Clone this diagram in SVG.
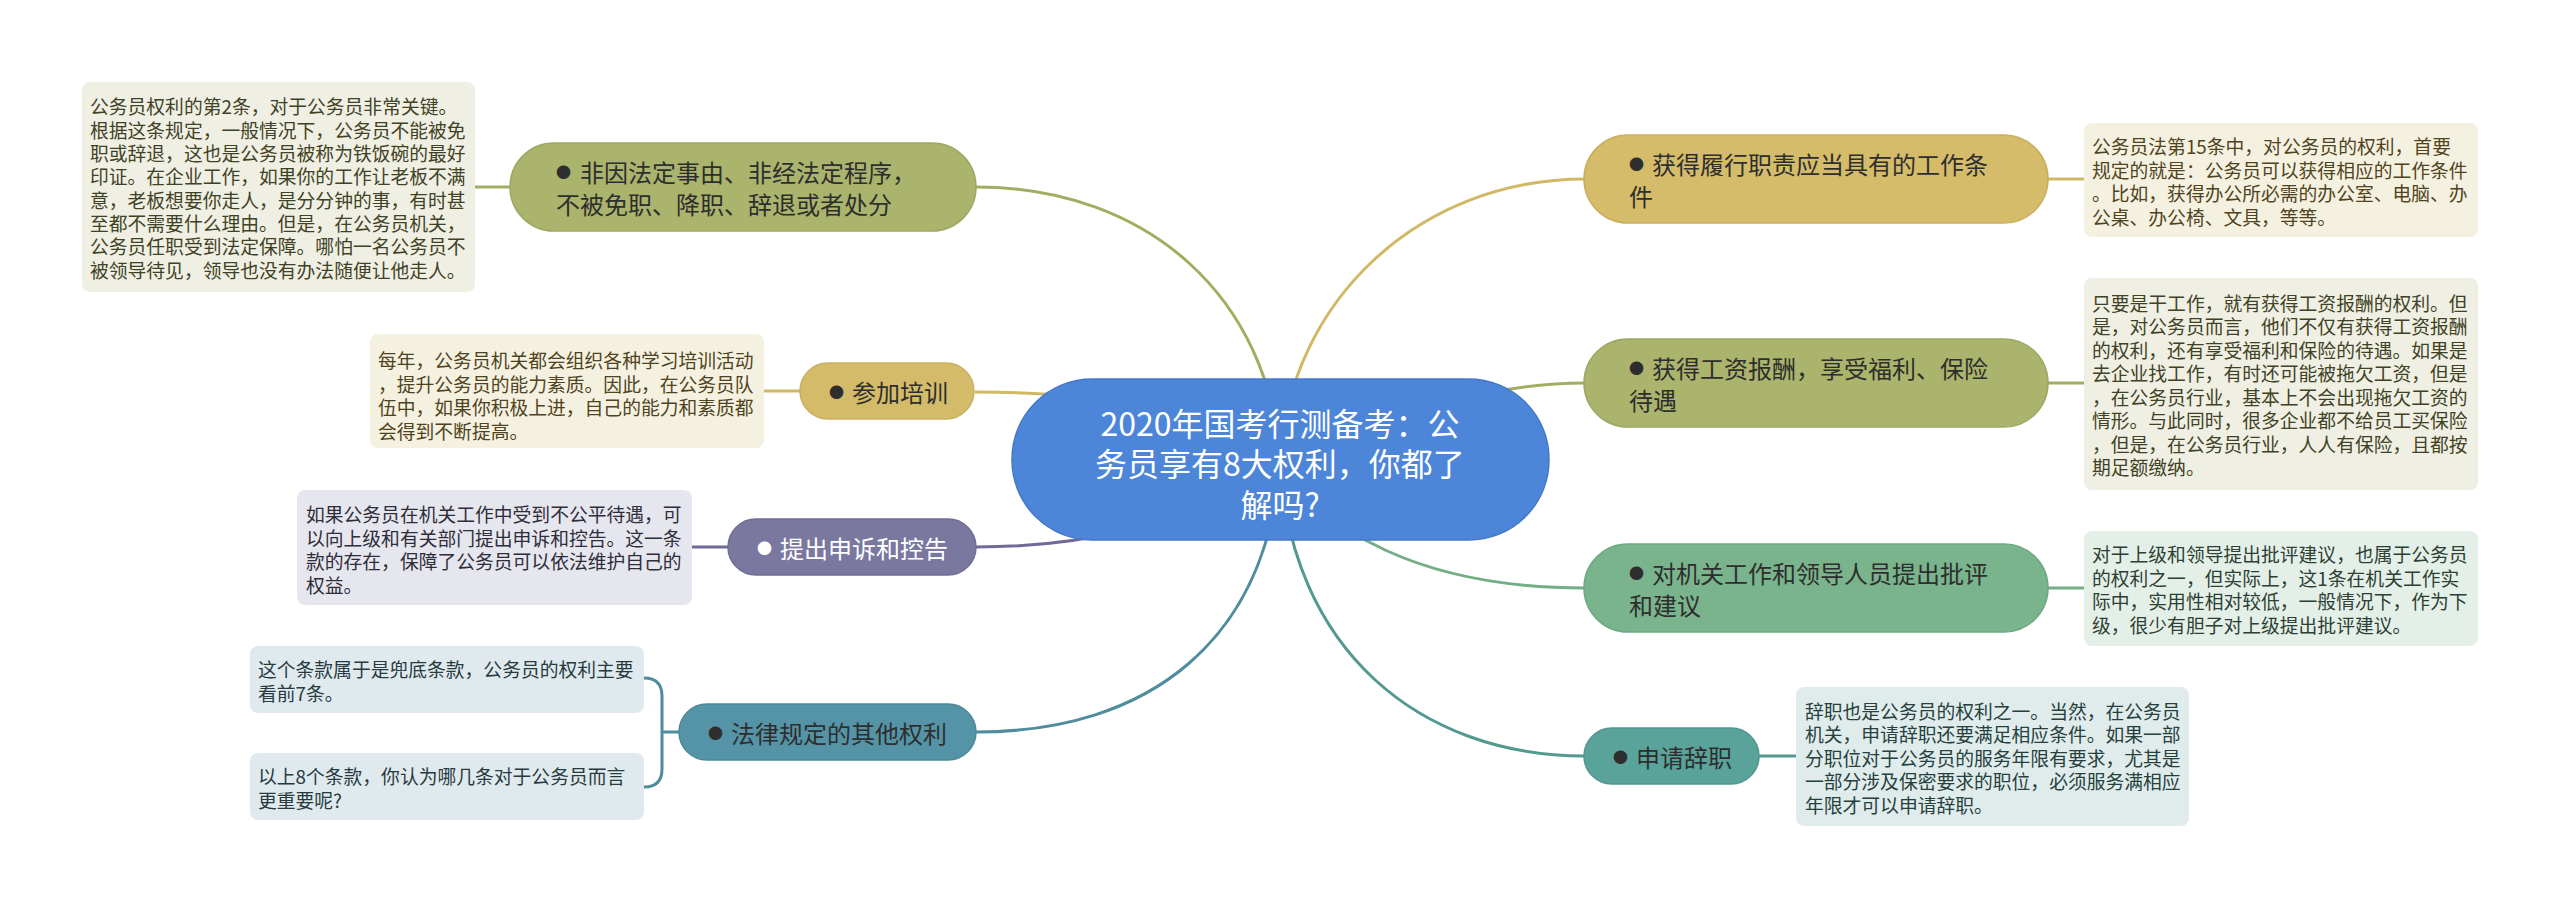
<svg xmlns="http://www.w3.org/2000/svg" width="2560" height="907" viewBox="0 0 2560 907">
<style>
text{font-family:"Noto Sans CJK SC","Noto Sans",sans-serif;dominant-baseline:central}
.note{font-size:18.8px}
.nd{font-size:24px;fill:#2e2e2e}
.b{font-size:15px}
.c{fill:none;stroke-width:3;stroke-linecap:round}
.nr{stroke-width:1.5}
</style>
<rect width="2560" height="907" fill="#ffffff"/>
<g id="connectors">
<path class="c" stroke="#a3ad62" d="M976 187 C1150 187 1270 300 1280 460"/>
<path class="c" stroke="#d1b865" d="M976 392 C1100 392 1200 410 1280 460"/>
<path class="c" stroke="#6f6a98" d="M976 547 C1080 547 1160 530 1280 470"/>
<path class="c" stroke="#4f8d9e" d="M976 732 C1150 732 1268 640 1280 460"/>
<path class="c" stroke="#d1b865" d="M1280 460 C1290 300 1420 179 1585 179"/>
<path class="c" stroke="#a3ad62" d="M1280 460 C1380 420 1480 383 1585 383"/>
<path class="c" stroke="#74ad86" d="M1280 460 C1320 530 1420 588 1585 588"/>
<path class="c" stroke="#53998f" d="M1280 460 C1290 650 1420 756 1585 756"/>
<path class="c" stroke="#a3ad62" d="M475 187 L511 187"/>
<path class="c" stroke="#d1b865" d="M764 391 L801 391"/>
<path class="c" stroke="#6f6a98" d="M692 547 L729 547"/>
<path class="c" stroke="#4f8d9e" d="M644 678 C656 678 662 684 662 696 L662 769 C662 781 656 787 644 787 M662 732 L680 732"/>
<path class="c" stroke="#d1b865" d="M2047 179 L2084 179"/>
<path class="c" stroke="#a3ad62" d="M2047 383 L2084 383"/>
<path class="c" stroke="#74ad86" d="M2047 588 L2084 588"/>
<path class="c" stroke="#53998f" d="M1758 756 L1796 756"/>
</g>

<g id="center">
<rect x="1012" y="379" width="537" height="161" rx="80" fill="#4d86d9" stroke="#4479c8" class="nr"/>
<text x="1280" y="422" font-size="32" fill="#ffffff" text-anchor="middle">2020年国考行测备考：公</text>
<text x="1280" y="462" font-size="32" fill="#ffffff" text-anchor="middle">务员享有8大权利，你都了</text>
<text x="1280" y="503" font-size="32" fill="#ffffff" text-anchor="middle">解吗?</text>
</g>

<g id="n1">
<rect x="510" y="143" width="466" height="88" rx="44" fill="#abb46c" stroke="#9fa862" class="nr"/>
<text class="nd" y="171"><tspan class="b" x="556">●</tspan><tspan x="580">非因法定事由、非经法定程序，</tspan></text>
<text class="nd" x="556" y="203">不被免职、降职、辞退或者处分</text>
</g>
<g id="note1">
<rect x="82" y="82" width="393" height="210" rx="8" fill="#efefe3"/>
<text class="note" fill="#3f4225">
<tspan x="90" y="105.3">公务员权利的第2条，对于公务员非常关键。</tspan>
<tspan x="90" y="128.6">根据这条规定，一般情况下，公务员不能被免</tspan>
<tspan x="90" y="152">职或辞退，这也是公务员被称为铁饭碗的最好</tspan>
<tspan x="90" y="175.3">印证。在企业工作，如果你的工作让老板不满</tspan>
<tspan x="90" y="198.6">意，老板想要你走人，是分分钟的事，有时甚</tspan>
<tspan x="90" y="222">至都不需要什么理由。但是，在公务员机关，</tspan>
<tspan x="90" y="245.3">公务员任职受到法定保障。哪怕一名公务员不</tspan>
<tspan x="90" y="268.6">被领导待见，领导也没有办法随便让他走人。</tspan>
</text>
</g>

<g id="n2">
<rect x="800" y="363" width="174" height="56" rx="28" fill="#d4bb6a" stroke="#c9b060" class="nr"/>
<text class="nd" y="391"><tspan class="b" x="829">●</tspan><tspan x="852">参加培训</tspan></text>
</g>
<g id="note2">
<rect x="370" y="334" width="394" height="114" rx="8" fill="#f5f1e1"/>
<text class="note" fill="#4f4320">
<tspan x="378" y="359">每年，公务员机关都会组织各种学习培训活动</tspan>
<tspan x="378" y="382.5">，提升公务员的能力素质。因此，在公务员队</tspan>
<tspan x="378" y="406">伍中，如果你积极上进，自己的能力和素质都</tspan>
<tspan x="378" y="429.5">会得到不断提高。</tspan>
</text>
</g>

<g id="n3">
<rect x="728" y="519" width="248" height="56" rx="28" fill="#7a789f" stroke="#6f6d94" class="nr"/>
<text class="nd" y="547" fill="#ffffff" style="fill:#ffffff"><tspan class="b" x="757">●</tspan><tspan x="780">提出申诉和控告</tspan></text>
</g>
<g id="note3">
<rect x="297" y="490" width="395" height="115" rx="8" fill="#e6e6ee"/>
<text class="note" fill="#2e2d3a">
<tspan x="306" y="513">如果公务员在机关工作中受到不公平待遇，可</tspan>
<tspan x="306" y="536.5">以向上级和有关部门提出申诉和控告。这一条</tspan>
<tspan x="306" y="560">款的存在，保障了公务员可以依法维护自己的</tspan>
<tspan x="306" y="583.5">权益。</tspan>
</text>
</g>

<g id="n4">
<rect x="679" y="704" width="297" height="56" rx="28" fill="#5494a6" stroke="#4b899b" class="nr"/>
<text class="nd" y="732"><tspan class="b" x="708">●</tspan><tspan x="731">法律规定的其他权利</tspan></text>
</g>
<g id="note4a">
<rect x="250" y="646" width="394" height="67" rx="8" fill="#e0eaee"/>
<text class="note" fill="#273a40">
<tspan x="258" y="668">这个条款属于是兜底条款，公务员的权利主要</tspan>
<tspan x="258" y="691.5">看前7条。</tspan>
</text>
</g>
<g id="note4b">
<rect x="250" y="753" width="394" height="67" rx="8" fill="#e0eaee"/>
<text class="note" fill="#273a40">
<tspan x="258" y="775">以上8个条款，你认为哪几条对于公务员而言</tspan>
<tspan x="258" y="798.5">更重要呢?</tspan>
</text>
</g>

<g id="n5">
<rect x="1584" y="135" width="464" height="88" rx="44" fill="#d4bc6b" stroke="#c9b060" class="nr"/>
<text class="nd" y="163"><tspan class="b" x="1629">●</tspan><tspan x="1652">获得履行职责应当具有的工作条</tspan></text>
<text class="nd" x="1629" y="195">件</text>
</g>
<g id="note5">
<rect x="2084" y="123" width="394" height="114" rx="8" fill="#f5f1e1"/>
<text class="note" fill="#4f4320">
<tspan x="2092" y="145">公务员法第15条中，对公务员的权利，首要</tspan>
<tspan x="2092" y="168.5">规定的就是：公务员可以获得相应的工作条件</tspan>
<tspan x="2092" y="192">。比如，获得办公所必需的办公室、电脑、办</tspan>
<tspan x="2092" y="215.5">公桌、办公椅、文具，等等。</tspan>
</text>
</g>

<g id="n6">
<rect x="1584" y="339" width="464" height="88" rx="44" fill="#abb46c" stroke="#9fa862" class="nr"/>
<text class="nd" y="367"><tspan class="b" x="1629">●</tspan><tspan x="1652">获得工资报酬，享受福利、保险</tspan></text>
<text class="nd" x="1629" y="399">待遇</text>
</g>
<g id="note6">
<rect x="2084" y="278" width="394" height="212" rx="8" fill="#efefe3"/>
<text class="note" fill="#3f4225">
<tspan x="2092" y="301.8">只要是干工作，就有获得工资报酬的权利。但</tspan>
<tspan x="2092" y="325.3">是，对公务员而言，他们不仅有获得工资报酬</tspan>
<tspan x="2092" y="348.8">的权利，还有享受福利和保险的待遇。如果是</tspan>
<tspan x="2092" y="372.3">去企业找工作，有时还可能被拖欠工资，但是</tspan>
<tspan x="2092" y="395.8">，在公务员行业，基本上不会出现拖欠工资的</tspan>
<tspan x="2092" y="419.3">情形。与此同时，很多企业都不给员工买保险</tspan>
<tspan x="2092" y="442.8">，但是，在公务员行业，人人有保险，且都按</tspan>
<tspan x="2092" y="466.3">期足额缴纳。</tspan>
</text>
</g>

<g id="n7">
<rect x="1584" y="544" width="464" height="88" rx="44" fill="#7ab48c" stroke="#6fa981" class="nr"/>
<text class="nd" y="572"><tspan class="b" x="1629">●</tspan><tspan x="1652">对机关工作和领导人员提出批评</tspan></text>
<text class="nd" x="1629" y="604">和建议</text>
</g>
<g id="note7">
<rect x="2084" y="531" width="394" height="115" rx="8" fill="#e4efe8"/>
<text class="note" fill="#2c3f33">
<tspan x="2092" y="553.3">对于上级和领导提出批评建议，也属于公务员</tspan>
<tspan x="2092" y="576.8">的权利之一，但实际上，这1条在机关工作实</tspan>
<tspan x="2092" y="600.3">际中，实用性相对较低，一般情况下，作为下</tspan>
<tspan x="2092" y="623.8">级，很少有胆子对上级提出批评建议。</tspan>
</text>
</g>

<g id="n8">
<rect x="1584" y="728" width="175" height="56" rx="28" fill="#5aa39b" stroke="#509890" class="nr"/>
<text class="nd" y="756"><tspan class="b" x="1613">●</tspan><tspan x="1636">申请辞职</tspan></text>
</g>
<g id="note8">
<rect x="1796" y="687" width="393" height="139" rx="8" fill="#dfeceb"/>
<text class="note" fill="#26403d">
<tspan x="1805" y="709.5">辞职也是公务员的权利之一。当然，在公务员</tspan>
<tspan x="1805" y="733">机关，申请辞职还要满足相应条件。如果一部</tspan>
<tspan x="1805" y="756.5">分职位对于公务员的服务年限有要求，尤其是</tspan>
<tspan x="1805" y="780">一部分涉及保密要求的职位，必须服务满相应</tspan>
<tspan x="1805" y="803.5">年限才可以申请辞职。</tspan>
</text>
</g>
</svg>
